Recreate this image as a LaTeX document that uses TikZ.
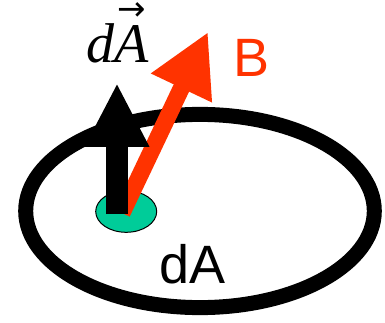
\documentclass[tikz,border=0pt]{standalone}
\usepackage{fontspec}
\newfontfamily\sansf{Liberation Sans}
\newfontfamily\serf{Liberation Serif}
\newfontfamily\symf{DejaVu Sans}
\usetikzlibrary{arrows.meta,shapes.geometric}
\definecolor{bred}{RGB}{255,51,0}
\definecolor{dagreen}{RGB}{0,204,153}
\tikzset{
  loop/.style={draw=black, line width=15pt},
  patch/.style={draw=black, line width=1pt, fill=dagreen},
  areavec/.style={draw=black, line width=22pt, -{Triangle[length=64pt,width=60pt]}},
  fieldvec/.style={draw=bred, line width=17pt, -{Triangle[length=62pt,width=63pt]}},
  lbl/.style={anchor=base west, inner sep=0pt, outer sep=0pt}
}
\begin{document}
\begin{tikzpicture}[x=1pt,y=-1pt]
\useasboundingbox (0,0) rectangle (385,323);
% loop
\draw[loop] (200,211) ellipse [x radius=174.3pt, y radius=96.6pt];
% small area element
\node[patch, ellipse, minimum width=61pt, minimum height=41.6pt, inner sep=0pt] (patch) at (126.2,211.5) {};
% vectors
\coordinate (Bbase) at (122,213);
\coordinate (Btip) at (208,32);
\coordinate (Abase) at (117,214);
\coordinate (Atip) at (117,83);
\draw[fieldvec] (Bbase) -- (Btip);
\draw[areavec] (Abase) -- (Atip);
% labels
\node[lbl] (dAvec) at (86,63) {\fontsize{56}{58}\selectfont\serf\itshape d\rlap{\hspace{3pt}\raisebox{42pt}[0pt][0pt]{\fontsize{34}{34}\selectfont\symf →}}A};
\node[lbl, text=bred] (Blabel) at (233,77) {\fontsize{54}{56}\selectfont\sansf B};
\node[lbl] (dAlabel) at (159,283) {\fontsize{54}{56}\selectfont\sansf dA};
\end{tikzpicture}
\end{document}
